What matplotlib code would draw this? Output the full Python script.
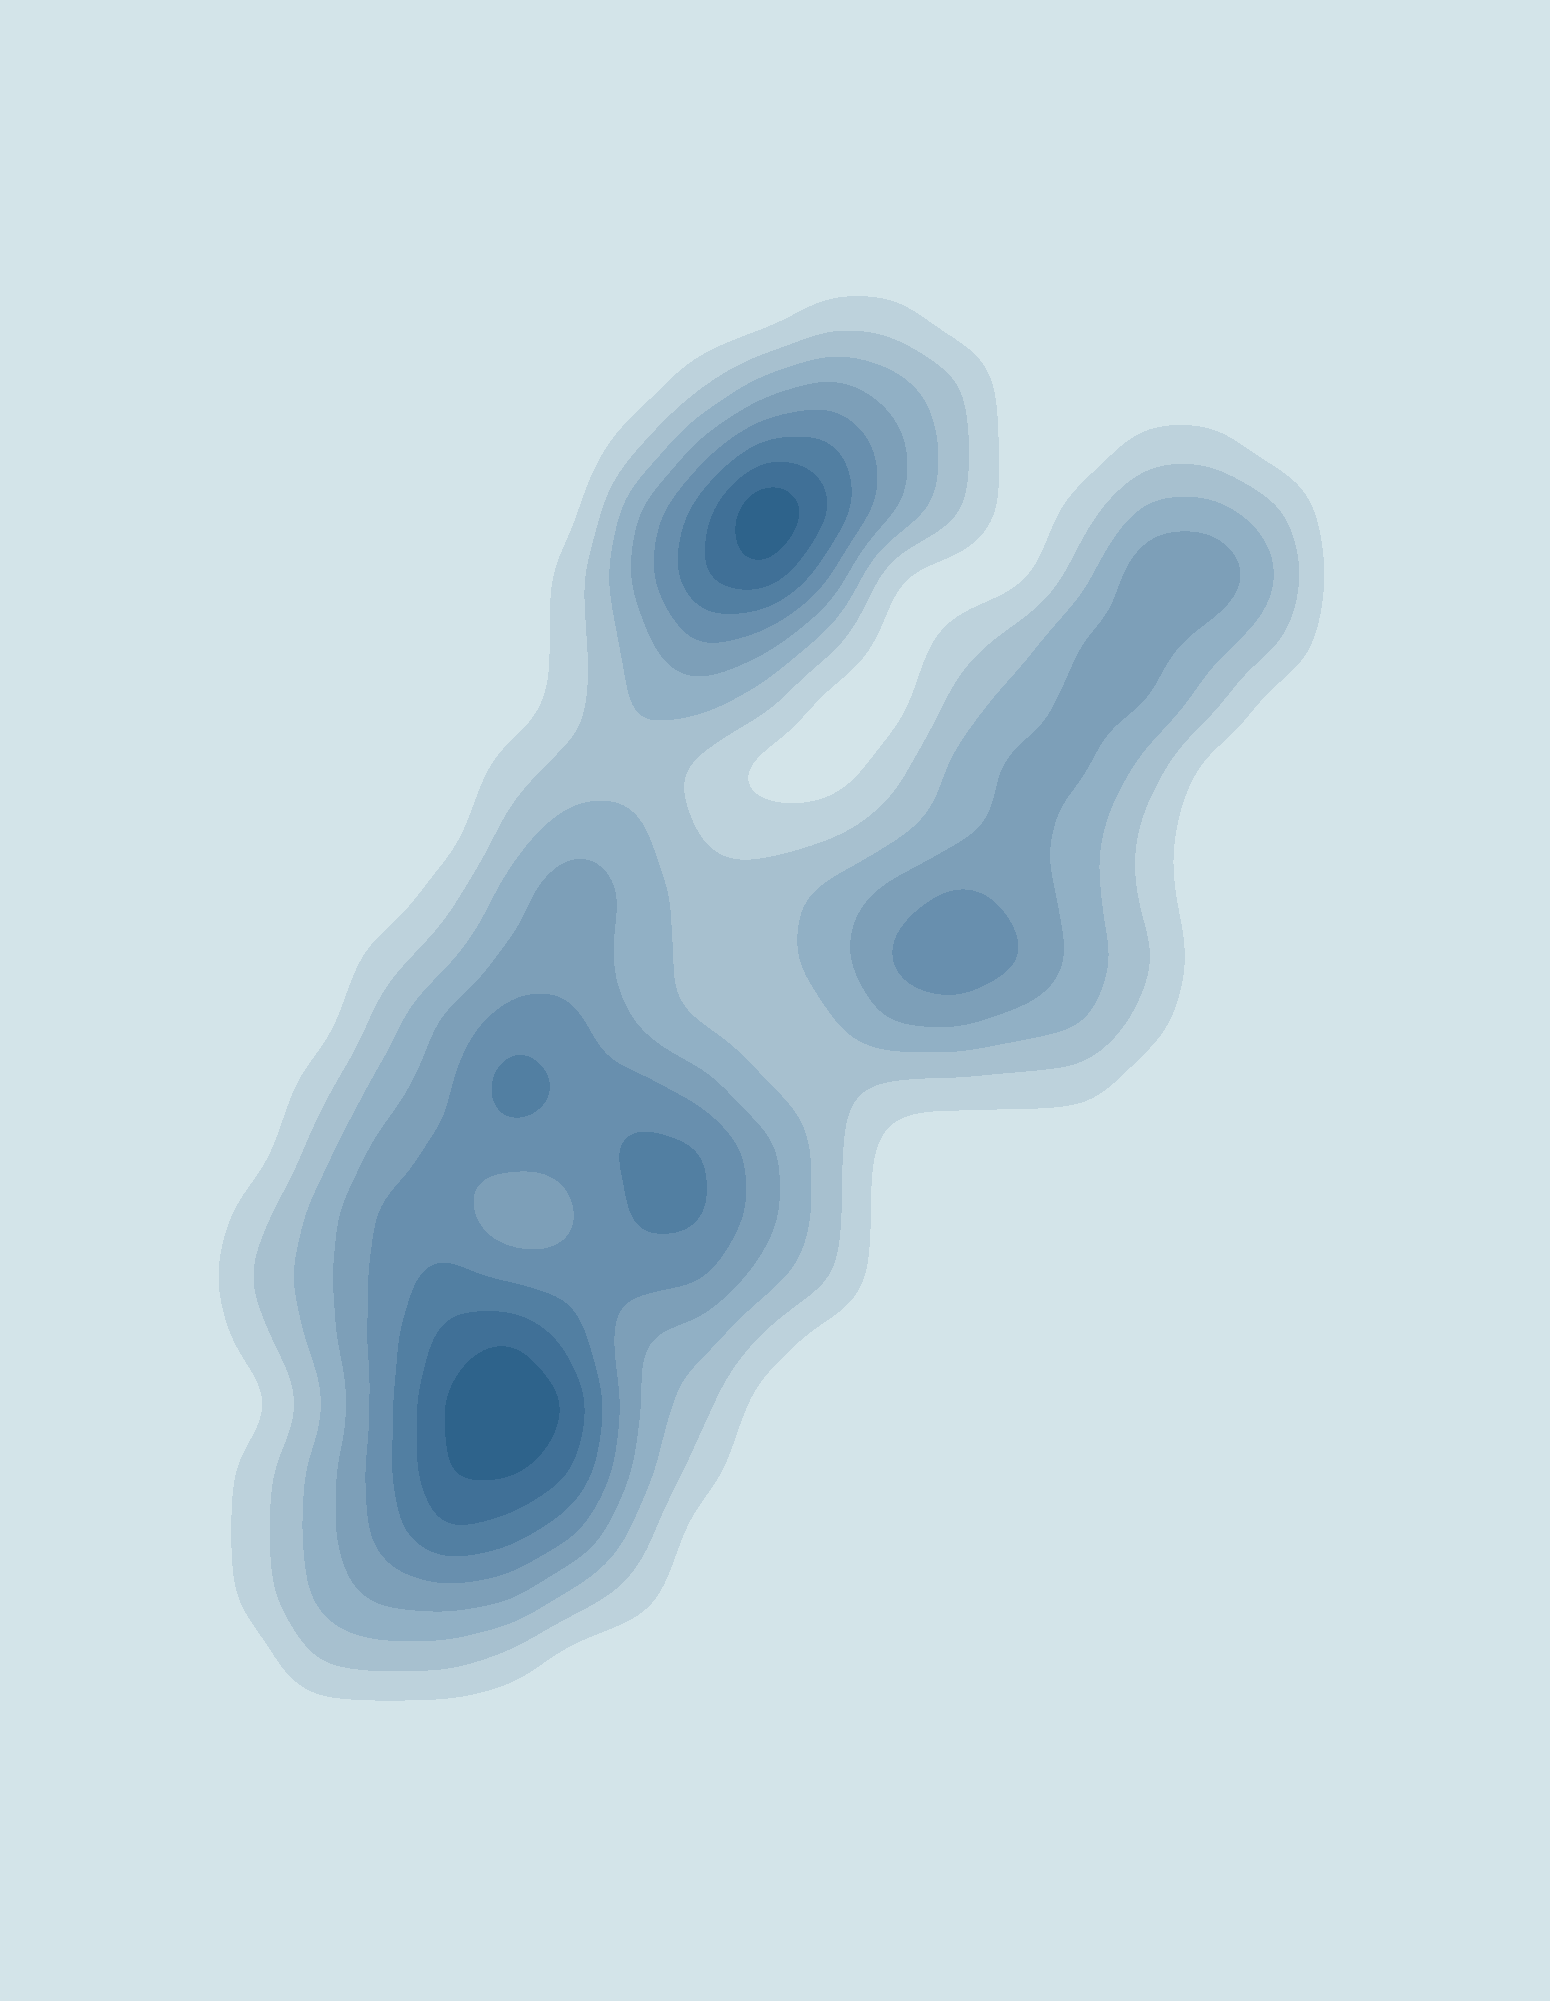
import numpy as np
import matplotlib
matplotlib.use("Agg")
import matplotlib.pyplot as plt

# Band readings (0 = background ... 8 = darkest) on a
# regular 50-unit lattice of the 1215 x 1568 view (x to the right, y downward).
x_centres = [200, 250, 300, 350, 400, 450, 500, 550, 600, 650, 700, 750, 800, 850, 900, 950, 1000, 1050]
y_centres = [250, 300, 350, 400, 450, 500, 550, 600, 650, 700, 750, 800, 850, 900, 950, 1000,
             1050, 1100, 1150, 1200, 1250, 1300]
band_readings = [
    [0, 0, 0, 0, 0, 0, 0, 0, 0, 1, 1, 0, 0, 0, 0, 0, 0, 0],
    [0, 0, 0, 0, 0, 0, 0, 1, 3, 4, 3, 2, 0, 0, 0, 0, 0, 0],
    [0, 0, 0, 0, 0, 0, 1, 4, 6, 6, 4, 2, 0, 0, 1, 1, 0, 0],
    [0, 0, 0, 0, 0, 0, 4, 6, 10, 7, 4, 2, 0, 1, 3, 3, 2, 0],
    [0, 0, 0, 0, 0, 1, 4, 7, 8, 5, 0, 0, 0, 2, 5, 5, 3, 0],
    [0, 0, 0, 0, 0, 1, 3, 5, 4, 2, 0, 1, 2, 4, 4, 3, 2, 0],
    [0, 0, 0, 0, 0, 1, 3, 3, 2, 0, 0, 2, 3, 4, 4, 2, 0, 0],
    [0, 0, 0, 0, 1, 2, 2, 1, 0, 0, 1, 3, 4, 4, 2, 0, 0, 0],
    [0, 0, 0, 0, 2, 3, 3, 1, 1, 1, 2, 3, 4, 3, 1, 0, 0, 0],
    [0, 0, 0, 1, 3, 5, 3, 2, 2, 3, 4, 5, 4, 3, 1, 0, 0, 0],
    [0, 0, 1, 2, 4, 4, 3, 2, 2, 3, 5, 6, 5, 3, 2, 0, 0, 0],
    [0, 0, 2, 4, 5, 5, 3, 2, 2, 2, 4, 4, 3, 3, 1, 0, 0, 0],
    [0, 1, 3, 4, 7, 5, 5, 4, 2, 2, 1, 1, 1, 1, 0, 0, 0, 0],
    [0, 2, 4, 5, 5, 5, 6, 6, 4, 2, 0, 0, 0, 0, 0, 0, 0, 0],
    [1, 3, 5, 5, 3, 4, 6, 6, 4, 2, 0, 0, 0, 0, 0, 0, 0, 0],
    [2, 3, 5, 6, 5, 5, 5, 5, 3, 2, 0, 0, 0, 0, 0, 0, 0, 0],
    [1, 3, 5, 7, 8, 6, 3, 3, 1, 0, 0, 0, 0, 0, 0, 0, 0, 0],
    [0, 2, 5, 8, 9, 8, 3, 2, 0, 0, 0, 0, 0, 0, 0, 0, 0, 0],
    [1, 3, 5, 8, 8, 7, 3, 1, 0, 0, 0, 0, 0, 0, 0, 0, 0, 0],
    [1, 3, 5, 7, 6, 5, 2, 0, 0, 0, 0, 0, 0, 0, 0, 0, 0, 0],
    [1, 3, 4, 4, 4, 2, 1, 0, 0, 0, 0, 0, 0, 0, 0, 0, 0, 0],
    [0, 2, 2, 2, 1, 0, 0, 0, 0, 0, 0, 0, 0, 0, 0, 0, 0, 0],
]
band_levels = [1, 2, 3, 4, 5, 6, 7, 8]
band_colors = ["#d3e4e9", "#bdd2dc", "#a7c0cf", "#91b0c5", "#7d9fb8",
               "#688fae", "#527fa2", "#407097", "#2e638b"]

# ---- kernel smoothing of the lattice readings ----
bandwidth = 30.0
spacing = 50.0
readings = np.array(band_readings, dtype=float)
values = np.where(readings > 0, readings + 0.5, 0.0)
gx = np.linspace(0, 1215, 610)
gy = np.linspace(0, 1568, 790)
GX, GY = np.meshgrid(gx, gy)
field = np.zeros_like(GX)
norm = spacing ** 2 / (2 * np.pi * bandwidth ** 2)
for j, yc in enumerate(y_centres):
    for i, xc in enumerate(x_centres):
        v = values[j, i]
        if v > 0:
            field += v * norm * np.exp(-((GX - xc) ** 2 + (GY - yc) ** 2) / (2 * bandwidth ** 2))

fig = plt.figure(figsize=(15.5, 20.01), dpi=100, facecolor=band_colors[0])
ax = fig.add_axes([0, 0, 1, 1])
ax.set_facecolor(band_colors[0])
levels = [-1.0] + band_levels + [field.max() + 1.0]
ax.contourf(GX, GY, field, levels=levels, colors=band_colors, antialiased=False)
ax.set_xlim(0, 1215)
ax.set_ylim(1568, 0)
ax.axis("off")
fig.savefig("out.png", dpi=100, facecolor=band_colors[0])
